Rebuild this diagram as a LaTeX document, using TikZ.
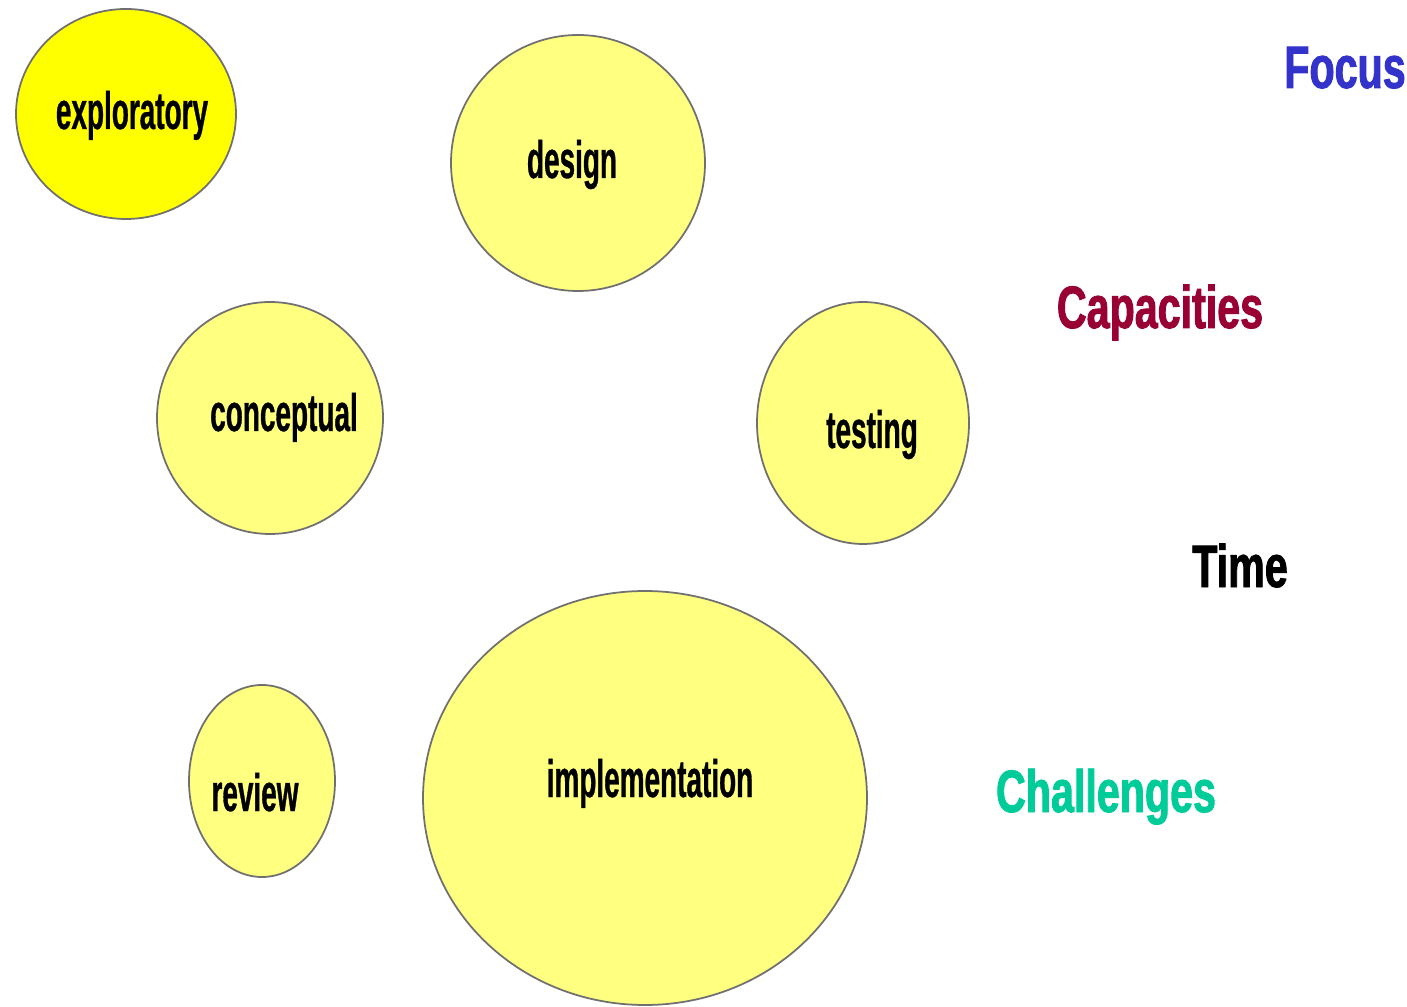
\documentclass[tikz,border=0pt]{standalone}
\usepackage{fontspec}
\usetikzlibrary{shapes.geometric}
\newfontfamily\bubblefont[FakeStretch=0.53,FakeBold=0.6]{Liberation Sans Bold}
\newfontfamily\sidefont[FakeStretch=0.69,FakeBold=1.5]{Liberation Sans Bold}
\definecolor{paleyellow}{HTML}{FFFF80}
\definecolor{brightyellow}{HTML}{FFFF00}
\definecolor{focusblue}{HTML}{3333CC}
\definecolor{capred}{HTML}{990033}
\definecolor{chalgreen}{HTML}{00CC99}
\definecolor{rimgray}{HTML}{707070}

\tikzset{
  bubble/.style={ellipse, draw=rimgray, line width=0.5pt, fill=paleyellow, inner sep=0pt},
  tag/.style={anchor=base, font=\bubblefont\fontsize{15}{15}\selectfont},
  side/.style={anchor=base, font=\sidefont\fontsize{17}{17}\selectfont}
}

\begin{document}
\begin{tikzpicture}[x=0.1mm, y=-0.1mm]
  \useasboundingbox (0,0) rectangle (1407,1007);

  % bubbles
  \node[bubble, fill=brightyellow, minimum width=22mm, minimum height=21mm] (exploratory) at (126,114) {};
  \node[bubble, minimum width=25.4mm, minimum height=25.6mm] (design) at (578,163) {};
  \node[bubble, minimum width=22.6mm, minimum height=23.2mm] (conceptual) at (270,418) {};
  \node[bubble, minimum width=21.2mm, minimum height=24.2mm] (testing) at (863,423) {};
  \node[bubble, minimum width=14.6mm, minimum height=19.2mm] (review) at (262,781) {};
  \node[bubble, minimum width=44.4mm, minimum height=41.4mm] (implementation) at (645,798) {};

  % bubble labels
  \node[tag] (explbl) at (132,129) {exploratory};
  \node[tag] (deslbl) at (572,178) {design};
  \node[tag] (conlbl) at (284,431) {conceptual};
  \node[tag] (testlbl) at (872,448) {testing};
  \node[tag] (revlbl) at (255,811) {review};
  \node[tag] (implbl) at (650,797) {implementation};

  % side words
  \node[side, text=focusblue] (focus) at (1345,88) {Focus};
  \node[side, text=capred] (capacities) at (1160,328) {Capacities};
  \node[side, text=black] (time) at (1240,587) {Time};
  \node[side, text=chalgreen] (challenges) at (1106,812) {Challenges};
\end{tikzpicture}
\end{document}
